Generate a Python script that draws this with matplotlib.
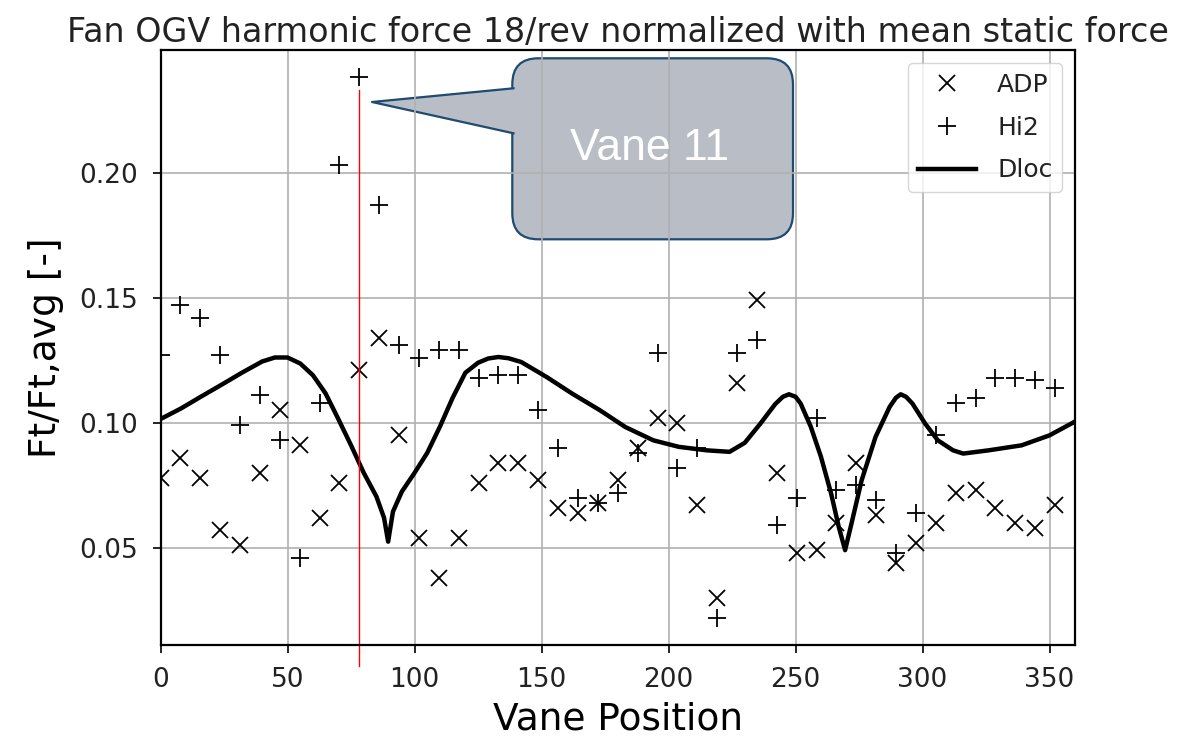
import matplotlib.pyplot as plt
import numpy as np
from matplotlib.patches import FancyBboxPatch, Polygon

plt.rcParams['font.family'] = 'DejaVu Sans'
plt.rcParams['text.color'] = '#222222'

# 46 vanes, equally spaced round the annulus
n_vanes = 46
vane_pos = np.arange(n_vanes) * 360 / n_vanes

adp = [0.078, 0.086, 0.078, 0.057, 0.051, 0.080, 0.105, 0.091, 0.062, 0.076,
       0.121, 0.134, 0.095, 0.054, 0.038, 0.054, 0.076, 0.084, 0.084, 0.077,
       0.066, 0.064, 0.068, 0.077, 0.090, 0.102, 0.100, 0.067, 0.030, 0.116,
       0.149, 0.080, 0.048, 0.049, 0.060, 0.084, 0.063, 0.044, 0.052, 0.060,
       0.072, 0.073, 0.066, 0.060, 0.058, 0.067]

hi2 = [0.127, 0.147, 0.142, 0.127, 0.099, 0.111, 0.093, 0.046, 0.108, 0.203,
       0.238, 0.187, 0.131, 0.126, 0.129, 0.129, 0.118, 0.119, 0.119, 0.105,
       0.090, 0.070, 0.068, 0.072, 0.088, 0.128, 0.082, 0.090, 0.022, 0.128,
       0.133, 0.059, 0.070, 0.102, 0.073, 0.075, 0.069, 0.048, 0.064, 0.095,
       0.108, 0.110, 0.118, 0.118, 0.117, 0.114]

dloc_pos = [0, 8, 16, 24, 32, 40, 45, 50, 55, 60,
            65, 70, 75, 80, 85, 88, 89.6, 91.5, 95, 100,
            105, 110, 115, 120, 125, 129, 133, 137, 142, 152,
            162, 173, 183, 194, 204, 215, 224, 230, 236, 242,
            245, 247.4, 250, 252, 256, 260, 264, 267, 269.5, 272,
            276, 281.5, 287, 289.5, 291.4, 293.5, 296, 301, 306, 312,
            316, 326, 339, 350, 360]
dloc = [0.1015, 0.1057, 0.1105, 0.1152, 0.1200, 0.1245, 0.1261, 0.1261, 0.1237, 0.1190,
        0.1117, 0.1015, 0.0910, 0.0800, 0.0705, 0.0620, 0.0525, 0.0645, 0.0725, 0.0800,
        0.0880, 0.0985, 0.1100, 0.1200, 0.1240, 0.1257, 0.1263, 0.1258, 0.1243, 0.1183,
        0.1117, 0.1050, 0.0983, 0.0930, 0.0904, 0.0890, 0.0884, 0.0920, 0.0995, 0.1075,
        0.1104, 0.1114, 0.1104, 0.1077, 0.0984, 0.0864, 0.0717, 0.0584, 0.0491, 0.0597,
        0.0770, 0.0944, 0.1063, 0.1100, 0.1114, 0.1104, 0.1077, 0.0997, 0.0930, 0.0890,
        0.0877, 0.0890, 0.0910, 0.0950, 0.1005]

marked_vane = 11

fig = plt.figure(figsize=(11.83, 7.39), dpi=100)
ax = fig.add_axes([0.1357, 0.1272, 0.7730, 0.8045])

ax.plot(vane_pos, adp, 'x', color='k', ms=12, mew=1.3, label='ADP')
ax.plot(vane_pos, hi2, '+', color='k', ms=13, mew=1.3, label='Hi2')
ax.plot(dloc_pos, dloc, '-', color='k', lw=3.2, solid_joinstyle='round', label='Dloc')

ax.set_xlim(0, 360)
ax.set_xticks(np.arange(0, 351, 50))
ax.set_yticks([0.05, 0.10, 0.15, 0.20])
ax.grid(True, color='#b0b0b0', lw=1.2)
ax.tick_params(labelsize=19, labelcolor='#222222', width=1.2, length=6, pad=10)
for sp in ax.spines.values():
    sp.set_linewidth(1.6)

ax.set_xlabel('Vane Position', fontsize=27, labelpad=6)
ax.set_ylabel('Ft/Ft,avg [-]', fontsize=27, labelpad=11)
ax.set_title('Fan OGV harmonic force 18/rev normalized with mean static force',
             fontsize=24, pad=6)

ax.legend(loc='upper right', fontsize=18, handlelength=2.3, handletextpad=0.85,
          labelspacing=0.75, edgecolor='#cccccc')

# red marker line under the vane 11 point, running past the x axis
x11 = vane_pos[marked_vane - 1]
ax.plot([x11, x11], [hi2[marked_vane - 1] - 0.005, 0.003], color='red', lw=1,
        clip_on=False, scalex=False, scaley=False)

# speech-bubble callout (inches from the lower-left figure corner)
tr = fig.dpi_scale_trans
fill = '#b9bec6'
edge = '#1f4a72'
box = FancyBboxPatch((5.123, 4.997), 2.807, 1.81,
                     boxstyle='round,pad=0,rounding_size=0.26',
                     fc=fill, ec=edge, lw=1.6, transform=tr, zorder=1)
ax.add_artist(box)
tip = (3.72, 6.37)
wedge = Polygon([(5.15, 6.507), tip, (5.15, 6.057)], closed=True,
                fc=fill, ec='none', transform=tr, zorder=1.1)
ax.add_artist(wedge)
ax.plot([5.135, tip[0], 5.135], [6.507, tip[1], 6.057], color=edge, lw=1.6,
        transform=tr, zorder=1.2, clip_on=False, scalex=False, scaley=False)
ax.text(6.50, 5.91, 'Vane %d' % marked_vane, transform=tr, ha='center', va='center',
        color='white', fontsize=32, family='Liberation Sans', zorder=3)

fig.savefig('out.png', dpi=100)
